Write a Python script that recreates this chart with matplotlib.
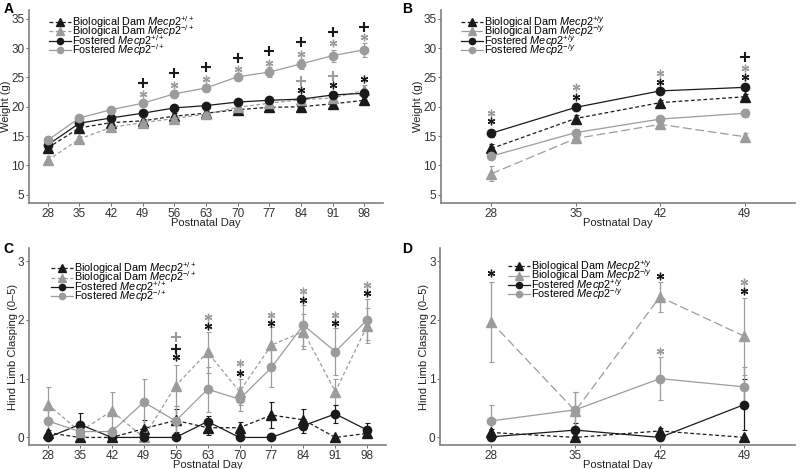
import matplotlib
matplotlib.use('Agg')
import matplotlib.pyplot as plt
import numpy as np

plt.rcParams['font.family'] = ['Liberation Sans', 'DejaVu Sans']
plt.rcParams['mathtext.fontset'] = 'custom'
plt.rcParams['mathtext.rm'] = 'Liberation Sans'
plt.rcParams['mathtext.it'] = 'Liberation Sans:italic'

BLACK = '#1a1a1a'
GRAY = '#9c9c9c'
SPINE = '#808080'

# ---- 数据 ----
days_long = [28, 35, 42, 49, 56, 63, 70, 77, 84, 91, 98]
days_short = [28, 35, 42, 49]

# A: 体重, 雌性
a_bio_wt = [13.0, 16.4, 17.3, 17.6, 18.4, 18.9, 19.5, 19.9, 20.0, 20.5, 21.1]
a_bio_wt_err = [0.5, 0.5, 0.4, 0.4, 0.5, 0.4, 0.4, 0.4, 0.4, 0.4, 0.5]
a_bio_ko = [10.9, 14.5, 16.5, 17.3, 18.0, 18.75, 19.9, 20.6, 21.2, 21.5, 22.8]
a_bio_ko_err = [0.7, 0.5, 0.4, 0.4, 0.4, 0.4, 0.5, 0.5, 0.6, 0.6, 0.9]
a_fos_wt = [13.5, 17.2, 18.1, 18.9, 19.8, 20.2, 20.8, 21.1, 21.3, 22.0, 22.3]
a_fos_wt_err = [0.5, 0.4, 0.4, 0.4, 0.4, 0.4, 0.4, 0.4, 0.5, 0.5, 0.6]
a_fos_ko = [14.3, 18.1, 19.5, 20.6, 22.2, 23.2, 25.1, 25.9, 27.3, 28.7, 29.7]
a_fos_ko_err = [0.5, 0.4, 0.4, 0.5, 0.6, 0.6, 0.6, 0.8, 0.9, 1.0, 1.2]
a_marks = [
    (49, 24.0, '+', BLACK), (49, 22.2, '*', GRAY),
    (56, 25.7, '+', BLACK), (56, 23.75, '*', GRAY),
    (63, 26.8, '+', BLACK), (63, 24.8, '*', GRAY),
    (70, 28.3, '+', BLACK), (70, 26.5, '*', GRAY),
    (77, 29.5, '+', BLACK), (77, 27.4, '*', GRAY),
    (84, 31.0, '+', BLACK), (84, 29.0, '*', GRAY),
    (84, 24.4, '+', GRAY), (84, 22.9, '*', BLACK),
    (91, 32.7, '+', BLACK), (91, 30.85, '*', GRAY),
    (91, 25.3, '+', GRAY), (91, 23.75, '*', BLACK),
    (98, 33.6, '+', BLACK), (98, 31.8, '*', GRAY), (98, 24.7, '*', BLACK),
]

# B: 体重, 雄性
b_bio_wt = [12.9, 18.0, 20.7, 21.7]
b_bio_wt_err = [0.7, 0.6, 0.5, 0.5]
b_bio_ko = [8.6, 14.6, 17.0, 14.9]
b_bio_ko_err = [1.3, 0.7, 0.5, 0.6]
b_fos_wt = [15.5, 19.9, 22.7, 23.3]
b_fos_wt_err = [0.6, 0.5, 0.4, 0.5]
b_fos_ko = [11.6, 15.6, 17.9, 18.9]
b_fos_ko_err = [0.5, 0.6, 0.6, 0.7]
b_marks = [
    (28, 19.0, '*', GRAY), (28, 17.5, '*', BLACK),
    (35, 23.3, '*', GRAY), (35, 21.7, '*', BLACK),
    (42, 25.8, '*', GRAY), (42, 24.25, '*', BLACK),
    (49, 28.4, '+', BLACK), (49, 26.6, '*', GRAY), (49, 25.0, '*', BLACK),
]

# C: 后肢抱握, 雌性
c_bio_wt = [0.08, 0.0, 0.0, 0.15, 0.29, 0.165, 0.165, 0.38, 0.3, 0.0, 0.07]
c_bio_wt_err = [0.05, 0.0, 0.0, 0.15, 0.2, 0.12, 0.1, 0.22, 0.18, 0.0, 0.05]
c_bio_ko = [0.56, 0.1, 0.45, 0.0, 0.88, 1.45, 0.78, 1.57, 1.8, 0.78, 1.9]
c_bio_ko_err = [0.3, 0.1, 0.33, 0.0, 0.35, 0.35, 0.22, 0.3, 0.3, 0.22, 0.3]
c_fos_wt = [0.0, 0.22, 0.0, 0.0, 0.0, 0.27, 0.0, 0.0, 0.2, 0.4, 0.125]
c_fos_wt_err = [0.0, 0.2, 0.0, 0.0, 0.0, 0.1, 0.0, 0.0, 0.12, 0.15, 0.12]
c_fos_ko = [0.28, 0.1, 0.1, 0.6, 0.28, 0.82, 0.65, 1.19, 1.91, 1.46, 2.0]
c_fos_ko_err = [0.2, 0.08, 0.08, 0.4, 0.25, 0.38, 0.2, 0.33, 0.35, 0.4, 0.35]
c_marks = [
    (56, 1.70, '+', GRAY), (56, 1.51, '+', BLACK), (56, 1.36, '*', BLACK),
    (63, 2.05, '*', GRAY), (63, 1.90, '*', BLACK),
    (70, 1.26, '*', GRAY), (70, 1.10, '*', BLACK),
    (77, 2.09, '*', GRAY), (77, 1.95, '*', BLACK),
    (84, 2.49, '*', GRAY), (84, 2.34, '*', BLACK),
    (91, 2.09, '*', GRAY), (91, 1.95, '*', BLACK),
    (98, 2.60, '*', GRAY), (98, 2.45, '*', BLACK),
]

# D: 后肢抱握, 雄性
d_bio_wt = [0.085, 0.0, 0.11, 0.0]
d_bio_wt_err = [0.05, 0.0, 0.05, 0.0]
d_bio_ko = [1.97, 0.45, 2.39, 1.72]
d_bio_ko_err = [0.68, 0.32, 0.25, 0.65]
d_fos_wt = [0.01, 0.125, 0.0, 0.56]
d_fos_wt_err = [0.0, 0.12, 0.0, 0.44]
d_fos_ko = [0.28, 0.47, 1.0, 0.86]
d_fos_ko_err = [0.28, 0.3, 0.36, 0.34]
d_marks = [
    (28, 2.80, '*', BLACK),
    (42, 2.75, '*', BLACK), (42, 1.47, '*', GRAY),
    (49, 2.64, '*', GRAY), (49, 2.49, '*', BLACK),
]

lab_f = [r'Biological Dam $\mathit{Mecp2}^{+/+}$', r'Biological Dam $\mathit{Mecp2}^{-/+}$',
         r'Fostered $\mathit{Mecp2}^{+/+}$', r'Fostered $\mathit{Mecp2}^{-/+}$']
lab_m = [r'Biological Dam $\mathit{Mecp2}^{+/y}$', r'Biological Dam $\mathit{Mecp2}^{-/y}$',
         r'Fostered $\mathit{Mecp2}^{+/y}$', r'Fostered $\mathit{Mecp2}^{-/y}$']


def draw_panel(ax, days, series, labels, marks, ylim, yticks, ylabel, ko_dash, leg_anchor):
    x = np.arange(len(days))
    styles = [
        dict(color=BLACK, marker='^', ls=(0, (3, 2)), ms=7),
        dict(color=GRAY, marker='^', ls=ko_dash, ms=7),
        dict(color=BLACK, marker='o', ls='-', ms=6),
        dict(color=GRAY, marker='o', ls='-', ms=6),
    ]
    for (y, err), st, lb in zip(series, styles, labels):
        ax.errorbar(x, y, yerr=err, color=st['color'], ls='none', lw=0.9,
                    capsize=1.8, capthick=0.8, zorder=2)
        ax.plot(x, y, color=st['color'], ls=st['ls'], lw=0.9, marker=st['marker'],
                ms=st['ms'], mec=st['color'], label=lb, zorder=3)
    # 显著性标记
    for d, yv, s, c in marks:
        xi = days.index(d)
        if s == '+':
            ax.plot(xi, yv, marker='+', ms=7.5, mew=1.5, color=c, zorder=4)
        else:
            ax.plot(xi, yv, marker=(6, 2, 0), ms=5.5, mew=0.95, color=c, zorder=4)
    ax.set_xlim(-0.6, len(days) - 0.4)
    ax.set_ylim(*ylim)
    ax.set_xticks(x)
    ax.set_xticklabels([str(d) for d in days])
    ax.set_yticks(yticks)
    ax.set_xlabel('Postnatal Day', fontsize=8, labelpad=-1, color='#222222')
    ax.set_ylabel(ylabel, fontsize=8, labelpad=0, color='#222222')
    for sp in ['top', 'right']:
        ax.spines[sp].set_visible(False)
    for sp in ['left', 'bottom']:
        ax.spines[sp].set_color(SPINE)
        ax.spines[sp].set_linewidth(1.2)
    ax.tick_params(labelsize=8.5, length=2, width=0.6, color='#555555', pad=1.2, labelcolor='#333333')
    leg = ax.legend(loc='upper left', bbox_to_anchor=leg_anchor, frameon=False,
                    fontsize=7.8, handlelength=2.0, handletextpad=0.1,
                    labelspacing=-0.6, borderaxespad=0, markerscale=0.75)
    return leg


fig = plt.figure(figsize=[8, 4.69], dpi=100)
axA = fig.add_axes([0.036, 0.567, 0.443, 0.412])
axB = fig.add_axes([0.551, 0.567, 0.443, 0.412])
axC = fig.add_axes([0.036, 0.051, 0.447, 0.42])
axD = fig.add_axes([0.550, 0.051, 0.444, 0.42])

draw_panel(axA, days_long,
           [(a_bio_wt, a_bio_wt_err), (a_bio_ko, a_bio_ko_err),
            (a_fos_wt, a_fos_wt_err), (a_fos_ko, a_fos_ko_err)],
           lab_f, a_marks, (3.6, 36.5), [5, 10, 15, 20, 25, 30, 35], 'Weight (g)',
           (0, (3, 2)), (0.045, 1.0))
draw_panel(axB, days_short,
           [(b_bio_wt, b_bio_wt_err), (b_bio_ko, b_bio_ko_err),
            (b_fos_wt, b_fos_wt_err), (b_fos_ko, b_fos_ko_err)],
           lab_m, b_marks, (3.6, 36.5), [5, 10, 15, 20, 25, 30, 35], 'Weight (g)',
           (0, (7, 3)), (0.045, 1.0))
draw_panel(axC, days_long,
           [(c_bio_wt, c_bio_wt_err), (c_bio_ko, c_bio_ko_err),
            (c_fos_wt, c_fos_wt_err), (c_fos_ko, c_fos_ko_err)],
           lab_f, c_marks, (-0.13, 3.22), [0, 1, 2, 3], 'Hind Limb Clasping (0\u20135)',
           (0, (3, 2)), (0.05, 0.96))
draw_panel(axD, days_short,
           [(d_bio_wt, d_bio_wt_err), (d_bio_ko, d_bio_ko_err),
            (d_fos_wt, d_fos_wt_err), (d_fos_ko, d_fos_ko_err)],
           lab_m, d_marks, (-0.13, 3.22), [0, 1, 2, 3], 'Hind Limb Clasping (0\u20135)',
           (0, (7, 3)), (0.18, 0.97))

for lt, xx, yy in [('A', 0.004, 0.995), ('B', 0.503, 0.995), ('C', 0.004, 0.485), ('D', 0.503, 0.485)]:
    fig.text(xx, yy, lt, fontsize=10, fontweight='bold', va='top', ha='left')

fig.savefig('out.png', dpi=100)
